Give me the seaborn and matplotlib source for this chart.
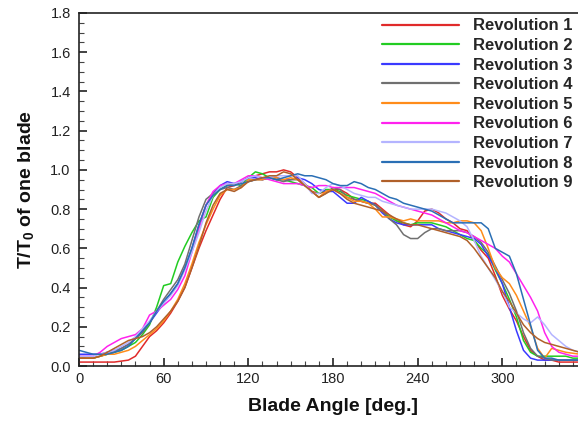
import numpy as np
import pandas as pd
import matplotlib
matplotlib.use("Agg")
import matplotlib.pyplot as plt
from matplotlib.ticker import MultipleLocator
import seaborn as sns

# ---------------- data ----------------
angles = list(range(0, 360, 5))

rev1 = [0.02, 0.02, 0.02, 0.02, 0.02, 0.02, 0.025, 0.03, 0.05, 0.10, 0.15, 0.18, 0.22, 0.27, 0.33, 0.40,
        0.50, 0.60, 0.69, 0.77, 0.85, 0.91, 0.92, 0.94, 0.96, 0.97, 0.98, 0.99, 0.99, 1.00, 0.99, 0.96,
        0.93, 0.89, 0.88, 0.89, 0.90, 0.90, 0.88, 0.85, 0.84, 0.83, 0.83, 0.80, 0.77, 0.74, 0.72, 0.71,
        0.74, 0.79, 0.80, 0.78, 0.75, 0.73, 0.70, 0.69, 0.64, 0.59, 0.55, 0.46, 0.36, 0.29, 0.23, 0.15,
        0.08, 0.05, 0.03, 0.03, 0.02, 0.02, 0.02, 0.02]
rev2 = [0.04, 0.04, 0.04, 0.05, 0.06, 0.07, 0.08, 0.10, 0.12, 0.16, 0.21, 0.30, 0.41, 0.42, 0.53, 0.61,
        0.68, 0.74, 0.76, 0.86, 0.90, 0.92, 0.93, 0.92, 0.96, 0.99, 0.98, 0.96, 0.95, 0.95, 0.94, 0.93,
        0.92, 0.91, 0.88, 0.90, 0.90, 0.89, 0.87, 0.86, 0.85, 0.84, 0.82, 0.79, 0.76, 0.74, 0.73, 0.72,
        0.73, 0.73, 0.73, 0.72, 0.71, 0.69, 0.67, 0.65, 0.64, 0.60, 0.57, 0.49, 0.42, 0.34, 0.25, 0.13,
        0.07, 0.05, 0.05, 0.05, 0.05, 0.05, 0.04, 0.04]
rev3 = [0.06, 0.06, 0.06, 0.06, 0.07, 0.08, 0.09, 0.11, 0.14, 0.18, 0.22, 0.27, 0.32, 0.37, 0.42, 0.50,
        0.60, 0.72, 0.82, 0.88, 0.92, 0.94, 0.93, 0.94, 0.96, 0.96, 0.95, 0.96, 0.96, 0.95, 0.95, 0.96,
        0.95, 0.93, 0.90, 0.89, 0.89, 0.86, 0.83, 0.83, 0.86, 0.84, 0.82, 0.78, 0.75, 0.73, 0.72, 0.72,
        0.72, 0.72, 0.72, 0.70, 0.69, 0.68, 0.67, 0.66, 0.65, 0.62, 0.56, 0.50, 0.42, 0.30, 0.18, 0.08,
        0.04, 0.03, 0.03, 0.03, 0.03, 0.03, 0.03, 0.03]
rev4 = [0.05, 0.04, 0.04, 0.05, 0.06, 0.07, 0.09, 0.11, 0.14, 0.17, 0.22, 0.28, 0.34, 0.39, 0.44, 0.52,
        0.64, 0.76, 0.85, 0.88, 0.90, 0.91, 0.90, 0.92, 0.94, 0.95, 0.95, 0.96, 0.95, 0.94, 0.95, 0.95,
        0.92, 0.89, 0.86, 0.88, 0.91, 0.90, 0.86, 0.85, 0.84, 0.83, 0.82, 0.79, 0.75, 0.72, 0.67, 0.65,
        0.65, 0.68, 0.70, 0.70, 0.69, 0.69, 0.69, 0.68, 0.66, 0.63, 0.58, 0.51, 0.44, 0.37, 0.28, 0.17,
        0.09, 0.05, 0.04, 0.03, 0.03, 0.03, 0.03, 0.03]
rev5 = [0.04, 0.04, 0.04, 0.05, 0.06, 0.06, 0.07, 0.08, 0.10, 0.13, 0.16, 0.19, 0.23, 0.28, 0.34, 0.42,
        0.52, 0.63, 0.72, 0.80, 0.87, 0.90, 0.90, 0.91, 0.95, 0.95, 0.95, 0.96, 0.96, 0.95, 0.96, 0.95,
        0.92, 0.89, 0.86, 0.89, 0.90, 0.88, 0.86, 0.84, 0.84, 0.83, 0.80, 0.76, 0.76, 0.75, 0.74, 0.75,
        0.74, 0.74, 0.74, 0.74, 0.73, 0.73, 0.74, 0.74, 0.73, 0.69, 0.60, 0.50, 0.45, 0.42, 0.36, 0.28,
        0.20, 0.09, 0.04, 0.09, 0.08, 0.07, 0.065, 0.06]
rev6 = [0.05, 0.05, 0.05, 0.07, 0.10, 0.12, 0.14, 0.15, 0.16, 0.19, 0.26, 0.28, 0.31, 0.34, 0.39, 0.46,
        0.58, 0.70, 0.82, 0.89, 0.92, 0.93, 0.93, 0.95, 0.97, 0.97, 0.96, 0.95, 0.94, 0.93, 0.93, 0.93,
        0.92, 0.91, 0.92, 0.92, 0.91, 0.91, 0.91, 0.91, 0.90, 0.89, 0.88, 0.86, 0.84, 0.82, 0.81, 0.80,
        0.79, 0.78, 0.77, 0.75, 0.73, 0.71, 0.69, 0.68, 0.66, 0.64, 0.62, 0.60, 0.56, 0.53, 0.47, 0.41,
        0.35, 0.28, 0.17, 0.10, 0.07, 0.06, 0.05, 0.05]
rev7 = [0.05, 0.05, 0.05, 0.06, 0.07, 0.08, 0.10, 0.12, 0.15, 0.19, 0.23, 0.28, 0.32, 0.36, 0.41, 0.49,
        0.58, 0.68, 0.79, 0.87, 0.91, 0.93, 0.93, 0.94, 0.96, 0.97, 0.96, 0.96, 0.97, 0.97, 0.97, 0.97,
        0.93, 0.88, 0.88, 0.91, 0.93, 0.92, 0.90, 0.88, 0.87, 0.86, 0.86, 0.84, 0.83, 0.82, 0.81, 0.80,
        0.80, 0.80, 0.80, 0.79, 0.78, 0.76, 0.74, 0.71, 0.64, 0.56, 0.50, 0.44, 0.38, 0.30, 0.27, 0.24,
        0.22, 0.25, 0.21, 0.16, 0.13, 0.10, 0.08, 0.07]
rev8 = [0.08, 0.07, 0.06, 0.06, 0.06, 0.07, 0.08, 0.10, 0.14, 0.18, 0.22, 0.28, 0.33, 0.37, 0.42, 0.50,
        0.60, 0.72, 0.82, 0.87, 0.90, 0.92, 0.92, 0.93, 0.94, 0.95, 0.96, 0.96, 0.95, 0.96, 0.97, 0.98,
        0.97, 0.97, 0.96, 0.95, 0.93, 0.92, 0.92, 0.94, 0.93, 0.91, 0.90, 0.88, 0.86, 0.85, 0.83, 0.82,
        0.81, 0.80, 0.79, 0.77, 0.75, 0.73, 0.73, 0.73, 0.73, 0.73, 0.70, 0.60, 0.58, 0.56, 0.47, 0.34,
        0.21, 0.08, 0.04, 0.04, 0.03, 0.03, 0.03, 0.03]
rev9 = [0.04, 0.04, 0.04, 0.05, 0.07, 0.09, 0.11, 0.13, 0.14, 0.15, 0.17, 0.20, 0.24, 0.28, 0.33, 0.40,
        0.50, 0.61, 0.73, 0.82, 0.88, 0.90, 0.89, 0.91, 0.94, 0.95, 0.96, 0.97, 0.97, 0.99, 0.98, 0.95,
        0.92, 0.89, 0.86, 0.88, 0.90, 0.88, 0.85, 0.83, 0.82, 0.81, 0.80, 0.79, 0.77, 0.75, 0.73, 0.72,
        0.72, 0.71, 0.70, 0.69, 0.68, 0.67, 0.66, 0.64, 0.60, 0.55, 0.50, 0.45, 0.38, 0.33, 0.27, 0.21,
        0.17, 0.14, 0.12, 0.11, 0.10, 0.09, 0.08, 0.07]

labels = ["Revolution 1", "Revolution 2", "Revolution 3", "Revolution 4", "Revolution 5",
          "Revolution 6", "Revolution 7", "Revolution 8", "Revolution 9"]
series = [rev1, rev2, rev3, rev4, rev5, rev6, rev7, rev8, rev9]
colors = ["#e02a2a", "#22cc22", "#3a3aff", "#707070", "#ff8c1a",
          "#ff22ee", "#b4b4ff", "#2a6fb5", "#b0602a"]

x_ticks = [0, 60, 120, 180, 240, 300]
y_ticks = [0.0, 0.2, 0.4, 0.6, 0.8, 1.0, 1.2, 1.4, 1.6, 1.8]

rows = []
for lab, vals in zip(labels, series):
    for a, v in zip(angles, vals):
        rows.append((lab, a, v))
df = pd.DataFrame(rows, columns=["rev", "angle", "ratio"])

# ---------------- style ----------------
sns.set_style("ticks")
plt.rcParams["font.family"] = ["Liberation Sans", "DejaVu Sans"]
plt.rcParams["mathtext.fontset"] = "custom"
plt.rcParams["mathtext.rm"] = "Liberation Sans:bold"
plt.rcParams["mathtext.bf"] = "Liberation Sans:bold"
plt.rcParams["mathtext.default"] = "bf"

W, H = 578, 421
fig = plt.figure(figsize=(W / 100, H / 100), dpi=100)
# axes: x=0 at px 79, 360 deg at px 587 (cropped), y=0 at px 366, 1.8 at px 13
ax = fig.add_axes([79 / W, (H - 366) / H, 508 / W, 353 / H])

sns.lineplot(data=df, x="angle", y="ratio", hue="rev", hue_order=labels,
             palette=dict(zip(labels, colors)), estimator=None, sort=False,
             lw=1.1, ax=ax, legend=True)

ax.set_xlim(0, 360)
ax.set_ylim(0, 1.8)
ax.set_xticks(x_ticks)
ax.set_yticks(y_ticks)
ax.set_yticklabels([f"{t:.1f}" for t in y_ticks])
ax.xaxis.set_minor_locator(MultipleLocator(10))
ax.yaxis.set_minor_locator(MultipleLocator(0.05))
ax.tick_params(axis="both", which="major", direction="in", length=6, width=1.2,
               color="#222222", labelsize=10.5, labelcolor="#222222")
ax.tick_params(axis="both", which="minor", direction="in", length=3.5, width=0.8, color="#444444")
ax.tick_params(axis="y", which="major", pad=6)
ax.tick_params(axis="x", which="major", pad=4)
for s in ["left", "bottom", "top", "right"]:
    ax.spines[s].set_linewidth(1.2)
    ax.spines[s].set_color("#222222")

ax.set_xlabel("Blade Angle [deg.]", fontsize=14, fontweight="bold", color="#111111")
ax.set_ylabel("T/T$_0$ of one blade", fontsize=14, fontweight="bold", color="#111111")
ax.xaxis.label.set_va("center")
ax.xaxis.set_label_coords(0.5, -0.116)
ax.yaxis.label.set_va("center")
ax.yaxis.set_label_coords(-0.104, 0.5)

handles, _ = ax.get_legend_handles_labels()
leg = ax.legend(handles[:9], labels, loc="upper left",
                bbox_to_anchor=(382 / W, 1 - 18.5 / H), bbox_transform=fig.transFigure,
                frameon=False, prop={"weight": "bold", "size": 12},
                handlelength=4.6, handletextpad=0.84, labelspacing=0.275,
                borderpad=0, borderaxespad=0)
for lh in leg.get_lines():
    lh.set_linewidth(1.6)

fig.savefig("out.png", dpi=100)
